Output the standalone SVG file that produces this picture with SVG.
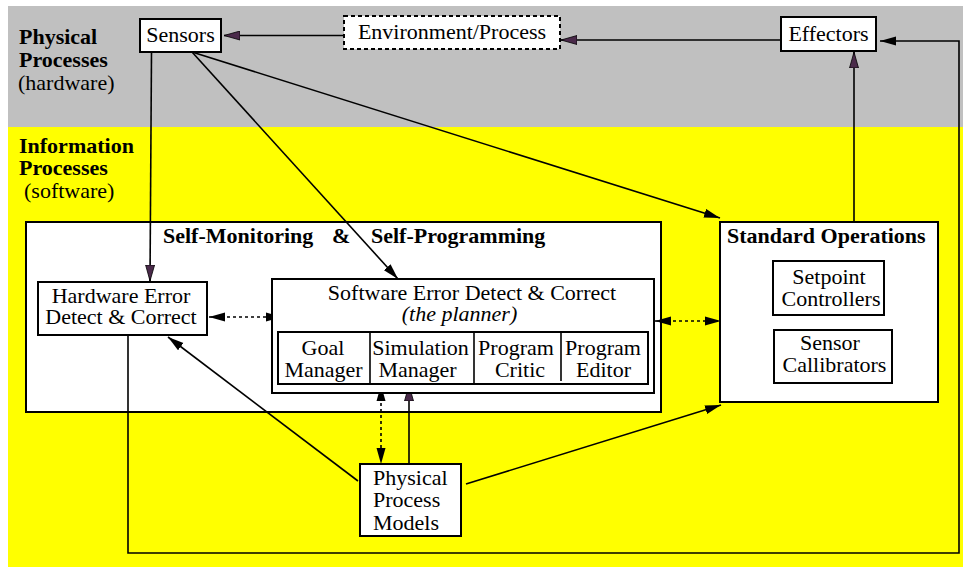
<svg xmlns="http://www.w3.org/2000/svg" width="969" height="570" viewBox="0 0 969 570">
  <style>
    .box { fill: #ffffff; stroke: #000000; stroke-width: 2; }
    .dash { stroke-dasharray: 4 3; }
    .t { font-family: "Liberation Serif", "Times New Roman", serif; font-size: 22px; fill: #000000; }
    .b { font-weight: bold; }
    .i { font-style: italic; }
    .mid { text-anchor: middle; }
    .ln { fill: none; stroke: #000000; stroke-width: 1.6; }
    .dot { stroke-dasharray: 3 3; }
    .div { stroke: #000000; stroke-width: 1.6; }
  </style>
  <defs>
    <marker id="ak" markerUnits="userSpaceOnUse" markerWidth="16" markerHeight="10" refX="16" refY="4.5" orient="auto-start-reverse" viewBox="0 0 16 9">
      <path d="M0,0 L16,4.5 L0,9 Z" fill="#000000"/>
    </marker>
    <marker id="ap" markerUnits="userSpaceOnUse" markerWidth="16" markerHeight="10" refX="16" refY="4.5" orient="auto-start-reverse" viewBox="0 0 16 9">
      <path d="M0,0 L16,4.5 L0,9 Z" fill="#4a2a4a" stroke="#000000" stroke-width="0.8"/>
    </marker>
  </defs>

  <!-- bands -->
  <rect x="8" y="6" width="955" height="121" fill="#c0c0c0"/>
  <rect x="8" y="127" width="955" height="440" fill="#ffff00"/>

  <!-- band labels -->
  <g id="band-labels">
    <text class="t b" x="19" y="44">Physical</text>
    <text class="t b" x="19" y="67">Processes</text>
    <text class="t" x="18" y="90">(hardware)</text>
    <text class="t b" x="19" y="153">Information</text>
    <text class="t b" x="19" y="175">Processes</text>
    <text class="t" x="24" y="198">(software)</text>
  </g>

  <!-- container boxes -->
  <g id="self-monitoring">
    <rect class="box" x="26" y="222" width="635" height="190"/>
    <text class="t b" y="243"><tspan x="163">Self-Monitoring</tspan><tspan x="332">&amp;</tspan><tspan x="371">Self-Programming</tspan></text>
  </g>

  <g id="standard-operations">
    <rect class="box" x="720" y="222" width="218" height="180"/>
    <text class="t b" x="727" y="243">Standard Operations</text>
  </g>

  <!-- connectors -->
  <g id="connectors">
    <line class="ln" x1="344" y1="35.5" x2="224" y2="35.5" marker-end="url(#ap)"/>
    <line class="ln" x1="781" y1="40" x2="561" y2="40" marker-end="url(#ap)"/>
    <polyline class="ln" points="128,335 128,553 959,553 959,41 880,41" marker-end="url(#ak)"/>
    <line class="ln" x1="854" y1="222" x2="854" y2="52" marker-end="url(#ap)"/>
    <line class="ln" x1="151.5" y1="52" x2="150" y2="281" marker-end="url(#ap)"/>
    <line class="ln" x1="192" y1="52" x2="398" y2="279" marker-end="url(#ak)"/>
    <line class="ln" x1="192" y1="52" x2="720" y2="218" marker-end="url(#ak)"/>
    <line class="ln dot" x1="209" y1="317" x2="282" y2="317" marker-start="url(#ak)" marker-end="url(#ak)"/>
    <line class="ln dot" x1="655" y1="321" x2="721" y2="321" marker-start="url(#ak)" marker-end="url(#ak)"/>
    <line class="ln dot" x1="381" y1="385" x2="381" y2="464" marker-start="url(#ak)" marker-end="url(#ak)"/>
    <line class="ln" x1="409" y1="464" x2="409" y2="385" marker-end="url(#ap)"/>
    <line class="ln" x1="358" y1="481" x2="168" y2="337" marker-end="url(#ak)"/>
    <line class="ln" x1="466" y1="484" x2="721" y2="405" marker-end="url(#ak)"/>
  </g>

  <!-- nodes -->
  <g id="sensors">
    <rect class="box" x="140" y="19" width="81" height="33"/>
    <text class="t mid" x="180.5" y="42">Sensors</text>
  </g>

  <g id="environment">
    <rect class="box dash" x="344" y="16" width="216" height="33"/>
    <text class="t mid" x="452" y="39">Environment/Process</text>
  </g>

  <g id="effectors">
    <rect class="box" x="781" y="17" width="95" height="34"/>
    <text class="t mid" x="828.5" y="41">Effectors</text>
  </g>

  <g id="hardware-error">
    <rect class="box" x="38" y="282" width="169" height="53"/>
    <text class="t mid" x="121" y="303">Hardware Error</text>
    <text class="t mid" x="121" y="324">Detect &amp; Correct</text>
  </g>

  <g id="software-error">
    <rect class="box" x="272" y="279" width="382" height="114"/>
    <text class="t mid" x="472" y="300">Software Error Detect &amp; Correct</text>
    <text class="t i mid" x="459.5" y="321">(the planner)</text>
    <g id="planner-modules">
      <rect class="box" x="278" y="332" width="370" height="52"/>
      <line class="div" x1="370" y1="332" x2="370" y2="384"/>
      <line class="div" x1="474" y1="332" x2="474" y2="384"/>
      <line class="div" x1="561" y1="332" x2="561" y2="381"/>
      <text class="t mid" x="323" y="355">Goal</text>
      <text class="t mid" x="323.5" y="377">Manager</text>
      <text class="t mid" x="420.5" y="355">Simulation</text>
      <text class="t mid" x="417.5" y="377">Manager</text>
      <text class="t mid" x="516" y="355">Program</text>
      <text class="t mid" x="520" y="377">Critic</text>
      <text class="t mid" x="603" y="355">Program</text>
      <text class="t mid" x="603.5" y="377">Editor</text>
    </g>
  </g>

  <g id="setpoint-controllers">
    <rect class="box" x="773" y="261" width="111" height="54"/>
    <text class="t mid" x="829" y="284">Setpoint</text>
    <text class="t mid" x="831" y="306">Controllers</text>
  </g>

  <g id="sensor-callibrators">
    <rect class="box" x="774" y="330" width="118" height="53"/>
    <text class="t mid" x="830" y="350">Sensor</text>
    <text class="t mid" x="834.5" y="372">Callibrators</text>
  </g>

  <g id="physical-process-models">
    <rect class="box" x="360" y="464" width="101" height="72"/>
    <text class="t" x="373" y="485">Physical</text>
    <text class="t" x="373" y="507">Process</text>
    <text class="t" x="373" y="530">Models</text>
  </g>
</svg>
